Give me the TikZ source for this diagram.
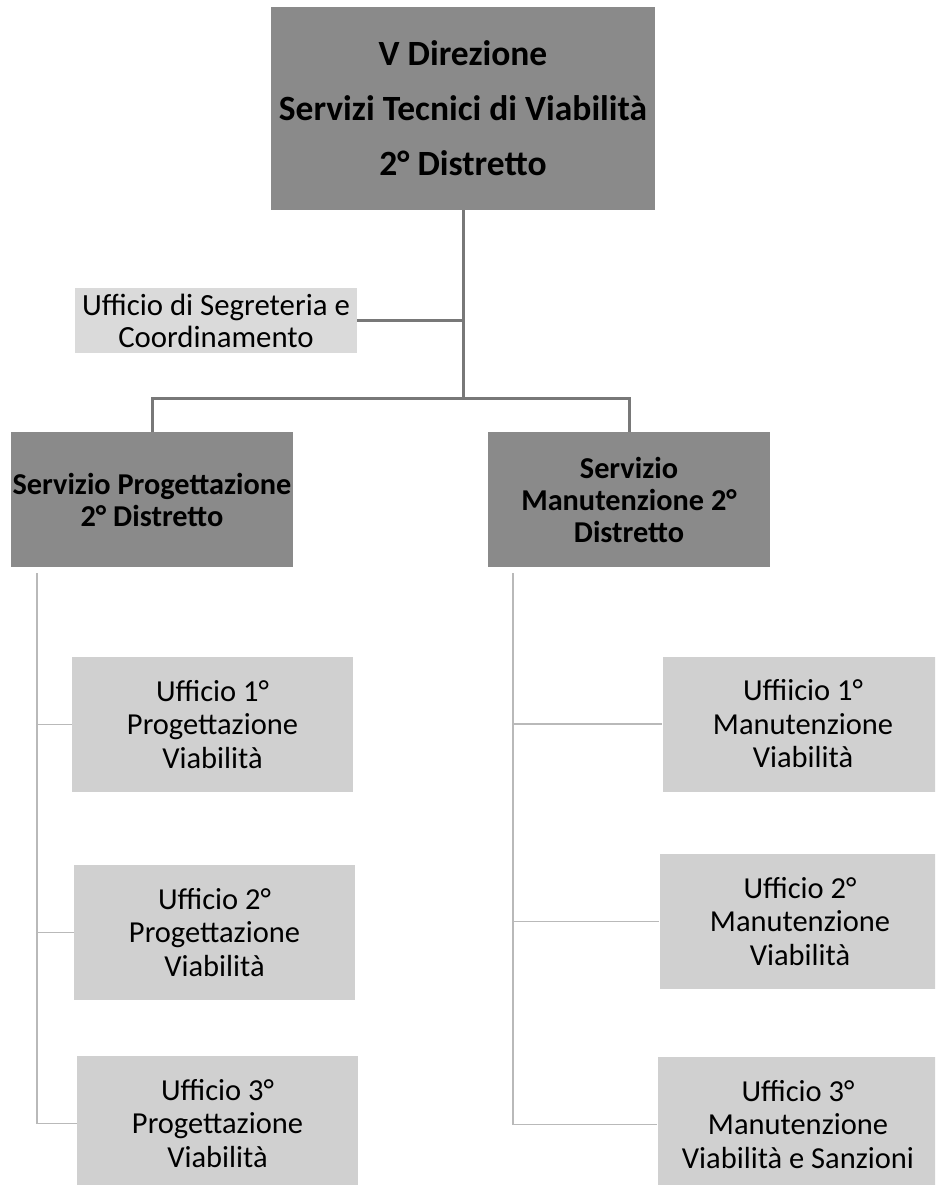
\documentclass[tikz,border=0pt]{standalone}
\usepackage{fontspec}
\setmainfont{Carlito}
\definecolor{headgray}{RGB}{138,138,138}
\definecolor{officegray}{RGB}{208,208,208}
\definecolor{staffgray}{RGB}{218,218,218}
\definecolor{linegray}{RGB}{120,120,120}
\definecolor{sublinegray}{RGB}{185,185,185}

\begin{document}
\begin{tikzpicture}[x=1pt, y=-1pt,
    every node/.style={inner sep=0pt, align=center},
    head/.style={fill=headgray, minimum width=384pt, minimum height=203pt, font=\bfseries\fontsize{35.5}{55}\selectfont},
    service/.style={fill=headgray, minimum width=282pt, minimum height=135pt, font=\bfseries\fontsize{30.3}{32}\selectfont},
    office/.style={fill=officegray, minimum width=281pt, minimum height=135pt, font=\fontsize{30.5}{33.5}\selectfont},
    staff/.style={fill=staffgray, minimum width=282pt, minimum height=65pt, font=\fontsize{30.8}{32}\selectfont},
    mainline/.style={draw=linegray, line width=3pt},
    subline/.style={draw=sublinegray, line width=1.5pt}
]
\clip (0,0) rectangle (935,1185);

% direzione
\node[head] (dir) at (463,108.5) {V Direzione\\Servizi Tecnici di Viabilità\\2° Distretto};
\node[staff] (segr) at (216,320.5) {Ufficio di Segreteria e\\Coordinamento};
\coordinate (bar) at (463,398);

\draw[mainline] (dir) -- (bar);
\draw[mainline] (segr.east) -- (segr.east -| dir.south);

% servizi
\node[service] (servP) at (152,499.5) {Servizio Progettazione\\2° Distretto};
\node[service] (servM) at (629,499.5) {Servizio\\Manutenzione 2°\\Distretto};

\draw[mainline] (servP.north) |- (bar) -| (servM.north);

% uffici progettazione
\node[office] (uffP1) at (212.5,724.5) {Ufficio 1°\\Progettazione\\Viabilità};
\node[office] (uffP2) at (214.5,932.5) {Ufficio 2°\\Progettazione\\Viabilità};
\node[office] (uffP3) at (217.5,1123.5) {Ufficio 3°\\Progettazione\\Viabilità};
\coordinate (trunkP) at (37,573);

\draw[subline] (trunkP) |- (uffP3.west);
\draw[subline] (trunkP |- uffP1.west) -- (uffP1.west);
\draw[subline] (trunkP |- uffP2.west) -- (uffP2.west);

% uffici manutenzione
\node[office] (uffM1) at (803,724) {Uffiicio 1°\\Manutenzione\\Viabilità};
\node[office] (uffM2) at (800,921.5) {Ufficio 2°\\Manutenzione\\Viabilità};
\node[office] (uffM3) at (798,1124.5) {Ufficio 3°\\Manutenzione\\Viabilità e Sanzioni};
\coordinate (trunkM) at (513,573);

\draw[subline] (trunkM) |- (uffM3.west);
\draw[subline] (trunkM |- uffM1.west) -- (uffM1.west);
\draw[subline] (trunkM |- uffM2.west) -- (uffM2.west);

\end{tikzpicture}
\end{document}
